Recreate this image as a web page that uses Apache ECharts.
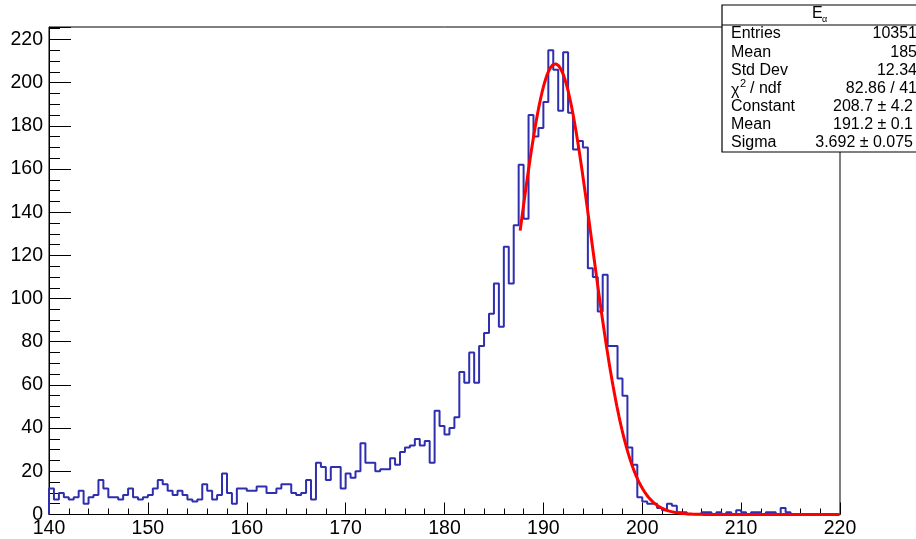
<!DOCTYPE html>
<html>
<head>
<meta charset="utf-8">
<script src="https://cdn.jsdelivr.net/npm/echarts@6/dist/echarts.min.js"></script>
<style>
    html, body { margin: 0; padding: 0; background: #fff; }
    #chart { width: 916px; height: 539px; }
</style>
</head>
<body>
<div id="chart"></div>
<script>
(function () {

    'use strict';

    // histogram E_alpha : 160 bins of 0.5 from 140 to 220
    var xMin = 140;
    var xMax = 220;
    var binWidth = 0.5;
    var binCounts = [
        12, 7, 10, 8, 7, 8, 11, 5, 8, 9,
        16, 12, 8, 8, 7, 9, 12, 8, 7, 8,
        9, 12, 16, 14, 11, 9, 11, 9, 7, 6,
        7, 14, 11, 7, 9, 19, 10, 5, 12, 12,
        11, 11, 13, 13, 10, 10, 12, 14, 14, 10,
        9, 10, 16, 7, 24, 22, 16, 22, 22, 12,
        19, 17, 20, 33, 24, 24, 20, 21, 21, 26,
        23, 29, 31, 32, 35, 32, 34, 24, 48, 41,
        37, 40, 45, 66, 61, 75, 61, 78, 84, 93,
        107, 87, 124, 107, 134, 162, 137, 185, 175, 179,
        191, 215, 206, 187, 214, 186, 169, 173, 170, 114,
        110, 94, 111, 78, 78, 63, 55, 31, 23, 8,
        6, 5, 5, 3, 2, 5, 4, 1, 1, 0,
        0, 0, 1, 1, 0, 1, 0, 1, 0, 2,
        1, 0, 1, 1, 0, 1, 1, 0, 3, 1,
        0, 0, 0, 0, 0, 0, 0, 0, 0, 0
    ];
    var yMax = 225.75;

    // gaussian fit (values from the stat box)
    var fitConstant = 208.7;
    var fitMean = 191.2;
    var fitSigma = 3.692;
    var fitStart = 187.65;
    var fitStep = 0.1;

    // stat box
    var statTitle = 'E';
    var statTitleSub = 'α';
    var statLabels = ['Entries', 'Mean', 'Std Dev', '', 'Constant', 'Mean', 'Sigma'];
    var statValues = ['10351', '185', '12.34', '82.86 / 41', '208.7 ± 4.2', '191.2 ± 0.1', '3.692 ± 0.075'];

    var font = '"Liberation Sans", Arial, Helvetica, sans-serif';

    // step outline of the histogram, starting and ending on the baseline
    var histPoints = [[xMin, 0]];
    for (var i = 0; i < binCounts.length; i++) {
        histPoints.push([xMin + i * binWidth, binCounts[i]]);
    }
    histPoints.push([xMax, binCounts[binCounts.length - 1]]);
    histPoints.push([xMax, 0]);

    var fitPoints = [];
    for (var x = fitStart; x <= xMax + 1e-9; x += fitStep) {
        var z = (x - fitMean) / fitSigma;
        fitPoints.push([x, fitConstant * Math.exp(-0.5 * z * z)]);
    }

    function txt(x, y, text, size, align) {
        return {
            type: 'text', x: x, y: y, z: 102,
            style: {
                text: text, fontSize: size, fontFamily: font, fill: '#000',
                align: align || 'left', verticalAlign: 'middle'
            }
        };
    }

    var graphics = [
        {type: 'rect', z: 100, shape: {x: 722, y: 5, width: 220, height: 147},
            style: {fill: '#fff', stroke: '#000', lineWidth: 1.2}},
        {type: 'line', z: 101, shape: {x1: 722, y1: 25, x2: 916, y2: 25},
            style: {stroke: '#000', lineWidth: 1}},
        txt(812, 14, statTitle, 16),
        txt(822, 20, statTitleSub, 9)
    ];
    for (var r = 0; r < statLabels.length; r++) {
        var ry = 34 + r * 18.1;
        if (statLabels[r]) {
            graphics.push(txt(731, ry, statLabels[r], 16));
        }
        graphics.push(txt(r < 4 ? 917 : 913, ry, statValues[r], 16, 'right'));
    }
    // chi2 / ndf label with superscript
    var chiY = 34 + 3 * 18.1;
    graphics.push(txt(731, chiY + 2, 'χ', 16));
    graphics.push(txt(740, chiY - 4, '2', 11));
    graphics.push(txt(750, chiY, '/ ndf', 16));

    var chart = echarts.init(document.getElementById('chart'));

    chart.setOption({
        animation: false,
        backgroundColor: '#fff',
        grid: {
            left: 49, right: 76, top: 27, bottom: 24.5,
            show: true, borderColor: '#000', borderWidth: 1, backgroundColor: 'transparent'
        },
        xAxis: {
            type: 'value',
            min: xMin,
            max: xMax,
            interval: 10,
            axisLine: {show: true, onZero: false, lineStyle: {color: '#000', width: 1}},
            axisTick: {show: true, inside: true, length: 12, lineStyle: {color: '#000'}},
            minorTick: {show: true, splitNumber: 5, length: 6, lineStyle: {color: '#000'}},
            axisLabel: {color: '#000', fontSize: 19.5, fontFamily: font, margin: 4},
            splitLine: {show: false}
        },
        yAxis: {
            type: 'value',
            min: 0,
            max: yMax,
            interval: 20,
            axisLine: {show: true, lineStyle: {color: '#000', width: 1}},
            axisTick: {show: true, inside: true, length: 22, lineStyle: {color: '#000'}},
            minorTick: {show: true, splitNumber: 4, length: 11, lineStyle: {color: '#000'}},
            axisLabel: {color: '#000', fontSize: 19.5, fontFamily: font, margin: 6, showMaxLabel: false},
            splitLine: {show: false}
        },
        series: [{
            name: 'E_alpha',
            type: 'line',
            step: 'end',
            data: histPoints,
            showSymbol: false,
            lineStyle: {color: '#2e2eae', width: 2},
            z: 2
        }, {
            name: 'gaus fit',
            type: 'line',
            data: fitPoints,
            showSymbol: false,
            lineStyle: {color: '#ff0000', width: 3},
            z: 3
        }],
        graphic: graphics
    });
}) ();
</script>
</body>
</html>
